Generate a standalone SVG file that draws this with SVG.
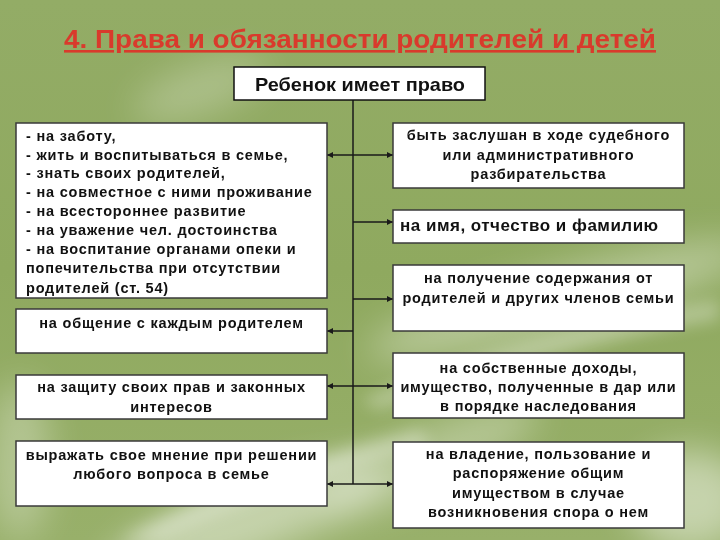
<svg xmlns="http://www.w3.org/2000/svg" width="720" height="540" viewBox="0 0 720 540">
<defs>
<linearGradient id="bg" x1="0" y1="0" x2="0" y2="1">
<stop offset="0" stop-color="#93ac66"/>
<stop offset="0.5" stop-color="#8fa95f"/>
<stop offset="1" stop-color="#98b06a"/>
</linearGradient>
<filter id="blur" x="-50%" y="-50%" width="200%" height="200%"><feGaussianBlur stdDeviation="18"/></filter>
<filter id="blur2" x="-50%" y="-50%" width="200%" height="200%"><feGaussianBlur stdDeviation="8"/></filter>
<marker id="arr" viewBox="0 0 10 10" refX="10" refY="5" markerWidth="6" markerHeight="6" orient="auto" markerUnits="userSpaceOnUse">
<path d="M0,0 L10,5 L0,10 z" fill="#1a1a1a"/>
</marker>
<style>
.box{fill:#ffffff;stroke:#3a3a3a;stroke-width:1.5}
.t{font-family:"Liberation Sans",Arial,sans-serif;font-weight:bold;fill:#111;font-size:14.5px;letter-spacing:0.8px}
.c{text-anchor:middle}
.big{font-size:17px;letter-spacing:0.5px}
.ln{stroke:#1a1a1a;stroke-width:1.5;fill:none}
</style>
</defs>
<g id="background">
<rect width="720" height="540" fill="url(#bg)"/>
<g filter="url(#blur)" fill="#ffffff">
<ellipse cx="200" cy="90" rx="70" ry="25" opacity="0.25" transform="rotate(-20 200 90)"/>
<ellipse cx="560" cy="300" rx="200" ry="30" opacity="0.35" transform="rotate(-15 560 300)"/>
<ellipse cx="250" cy="520" rx="150" ry="35" opacity="0.45" transform="rotate(-20 250 520)"/>
<ellipse cx="690" cy="500" rx="60" ry="50" opacity="0.45"/>
<ellipse cx="20" cy="460" rx="30" ry="80" opacity="0.3"/>
<ellipse cx="430" cy="460" rx="120" ry="30" opacity="0.3" transform="rotate(-25 430 460)"/>
</g>
<g filter="url(#blur2)" fill="#ffffff">
<path d="M120,540 Q250,470 420,430 L430,445 Q270,490 160,540 z" opacity="0.35"/>
<path d="M360,400 Q520,330 720,300 L720,320 Q540,350 380,410 z" opacity="0.3"/>
</g>
</g>
<g id="title">
<text x="360" y="48" text-anchor="middle" font-family="Liberation Sans, Arial, sans-serif" font-weight="bold" font-size="26" fill="#d93a2c" text-decoration="underline" textLength="592" lengthAdjust="spacingAndGlyphs">4. Права и обязанности родителей и детей</text>
</g>
<g id="connectors">
<path class="ln" d="M353,100 V484"/>
<path class="ln" d="M353,155 H327" marker-end="url(#arr)"/>
<path class="ln" d="M353,331 H327" marker-end="url(#arr)"/>
<path class="ln" d="M353,386 H327" marker-end="url(#arr)"/>
<path class="ln" d="M353,484 H327" marker-end="url(#arr)"/>
<path class="ln" d="M353,155 H393" marker-end="url(#arr)"/>
<path class="ln" d="M353,222 H393" marker-end="url(#arr)"/>
<path class="ln" d="M353,299 H393" marker-end="url(#arr)"/>
<path class="ln" d="M353,386 H393" marker-end="url(#arr)"/>
<path class="ln" d="M353,484 H393" marker-end="url(#arr)"/>
</g>
<g id="root">
<rect x="234" y="67" width="251" height="33" fill="#fff" stroke="#111" stroke-width="1.5"/>
<text x="360" y="91" text-anchor="middle" font-family="Liberation Sans, Arial, sans-serif" font-weight="bold" font-size="19" fill="#111" textLength="210" lengthAdjust="spacingAndGlyphs">Ребенок имеет право</text>
</g>
<g id="left1">
<rect class="box" x="16" y="123" width="311" height="175"/>
<text class="t" x="26">
<tspan x="26" y="141">- на заботу,</tspan>
<tspan x="26" y="160">- жить и воспитываться в семье,</tspan>
<tspan x="26" y="178">- знать своих родителей,</tspan>
<tspan x="26" y="197">- на совместное с ними проживание</tspan>
<tspan x="26" y="216">- на всестороннее развитие</tspan>
<tspan x="26" y="235">- на уважение чел. достоинства</tspan>
<tspan x="26" y="254">- на воспитание органами опеки и</tspan>
<tspan x="26" y="273">попечительства при отсутствии</tspan>
<tspan x="26" y="293">родителей (ст. 54)</tspan>
</text>
</g>
<g id="left2">
<rect class="box" x="16" y="309" width="311" height="44"/>
<text class="t c" x="171.5" y="328">на общение с каждым родителем</text>
</g>
<g id="left3">
<rect class="box" x="16" y="375" width="311" height="44"/>
<text class="t c" x="171.5"><tspan x="171.5" y="392">на защиту своих прав и законных</tspan><tspan x="171.5" y="412">интересов</tspan></text>
</g>
<g id="left4">
<rect class="box" x="16" y="441" width="311" height="65"/>
<text class="t c" x="171.5"><tspan x="171.5" y="460">выражать свое мнение при решении</tspan><tspan x="171.5" y="479">любого вопроса в семье</tspan></text>
</g>
<g id="right1">
<rect class="box" x="393" y="123" width="291" height="65"/>
<text class="t c" x="538.5"><tspan x="538.5" y="140">быть заслушан в ходе судебного</tspan><tspan x="538.5" y="160">или административного</tspan><tspan x="538.5" y="179">разбирательства</tspan></text>
</g>
<g id="right2">
<rect class="box" x="393" y="210" width="291" height="33"/>
<text class="t big" x="400" y="231">на имя, отчество и фамилию</text>
</g>
<g id="right3">
<rect class="box" x="393" y="265" width="291" height="66"/>
<text class="t c" x="538.5"><tspan x="538.5" y="283">на получение содержания от</tspan><tspan x="538.5" y="303">родителей и других членов семьи</tspan></text>
</g>
<g id="right4">
<rect class="box" x="393" y="353" width="291" height="65"/>
<text class="t c" x="538.5"><tspan x="538.5" y="373">на собственные доходы,</tspan><tspan x="538.5" y="392">имущество, полученные в дар или</tspan><tspan x="538.5" y="411">в порядке наследования</tspan></text>
</g>
<g id="right5">
<rect class="box" x="393" y="442" width="291" height="86"/>
<text class="t c" x="538.5"><tspan x="538.5" y="459">на владение, пользование и</tspan><tspan x="538.5" y="478">распоряжение общим</tspan><tspan x="538.5" y="498">имуществом в случае</tspan><tspan x="538.5" y="517">возникновения спора о нем</tspan></text>
</g>
</svg>
